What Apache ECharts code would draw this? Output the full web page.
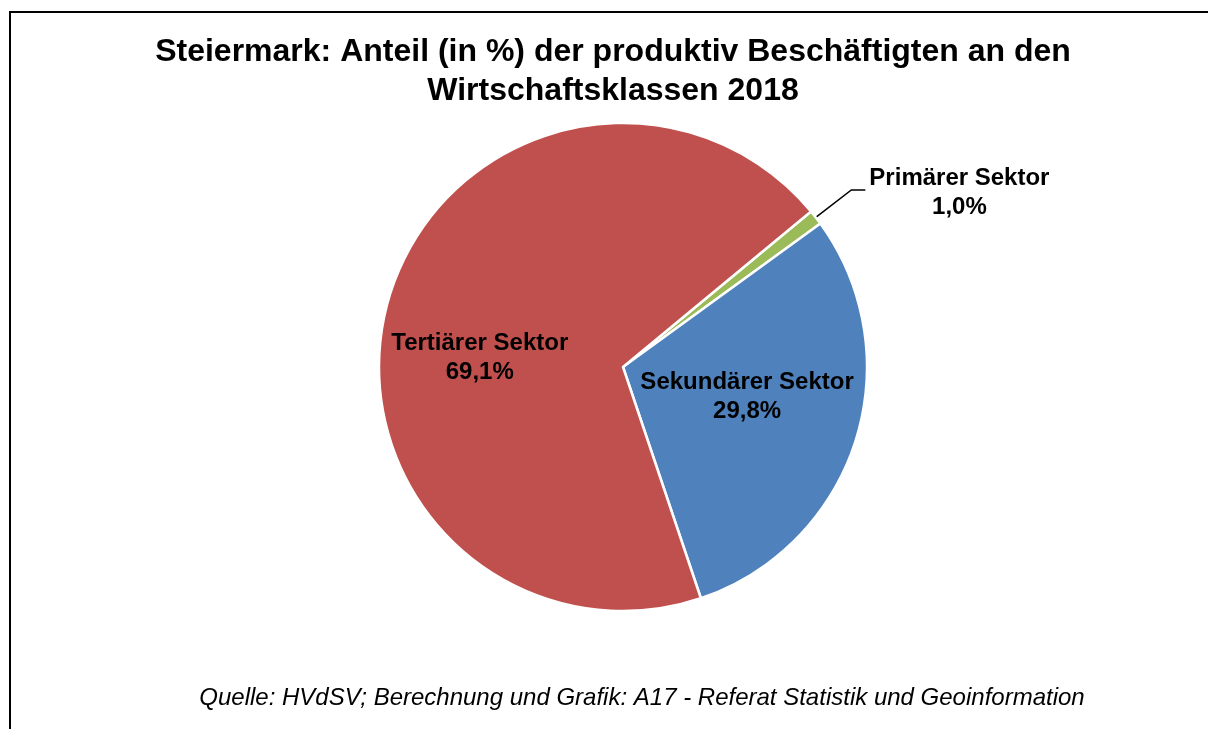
<!DOCTYPE html>
<html>
<head>
<meta charset="utf-8">
<script src="https://cdn.jsdelivr.net/npm/echarts@6/dist/echarts.min.js"></script>
<style>
html,body{margin:0;padding:0;background:#fff;}
#chart{width:1208px;height:729px;}
</style>
</head>
<body>
<div id="chart"></div>
<script>
const titleText = 'Steiermark: Anteil (in %) der produktiv Beschäftigten an den\nWirtschaftsklassen 2018';
const sourceText = 'Quelle: HVdSV; Berechnung und Grafik: A17 - Referat Statistik und Geoinformation';
const categories = ['Primärer Sektor', 'Sekundärer Sektor', 'Tertiärer Sektor'];
const values = [1.0, 29.8, 69.1];
const colors = ['#9BBB59', '#4F81BD', '#C0504D'];

const FONT = "'Liberation Sans', Arial, sans-serif";
const fmt = v => v.toFixed(1).replace('.', ',') + '%';

const labelBase = {
  color: '#000', fontFamily: FONT, fontWeight: 'bold', fontSize: 24, lineHeight: 28.5
};
const itemLabels = [
  {
    position: 'outside',
    formatter: p => '{a|' + p.name + '}\n{a|' + fmt(p.value) + '}',
    rich: { a: Object.assign({}, labelBase, { align: 'center' }) },
    padding: [6, 0, 0, 0],
    distanceToLabelLine: 4
  },
  { position: 'inside', offset: [5, -8] },
  { position: 'inside', offset: [-23, 25] }
];

const data = categories.map((c, i) => ({
  name: c,
  value: values[i],
  itemStyle: { color: colors[i] },
  label: itemLabels[i],
  labelLine: { show: i === 0 }
}));

const chart = echarts.init(document.getElementById('chart'), null, { renderer: 'canvas' });
chart.setOption({
  animation: false,
  backgroundColor: '#fff',
  title: [
    {
      text: titleText,
      left: 613, top: 32.5, padding: 0, textAlign: 'center',
      textStyle: { fontFamily: FONT, fontWeight: 'bold', fontSize: 32, lineHeight: 39, color: '#000' }
    },
    {
      text: sourceText,
      left: 642, top: 684, padding: 0, textAlign: 'center',
      textStyle: { fontFamily: FONT, fontStyle: 'italic', fontWeight: 'normal', fontSize: 24, lineHeight: 28, color: '#000' }
    }
  ],
  graphic: [
    { type: 'rect', shape: { x: 10, y: 12, width: 1400, height: 900 }, style: { fill: 'none', stroke: '#000', lineWidth: 2 }, silent: true }
  ],
  series: [{
    type: 'pie',
    center: [623, 367],
    radius: 244,
    startAngle: 39.6,
    clockwise: true,
    avoidLabelOverlap: false,
    itemStyle: { borderColor: '#fff', borderWidth: 2.5 },
    label: Object.assign({ show: true, formatter: p => p.name + '\n' + fmt(p.value) }, labelBase),
    labelLine: { show: true, length: 45, length2: 14, lineStyle: { color: '#000', width: 1.5 } },
    emphasis: { disabled: true },
    data: data
  }]
});
</script>
</body>
</html>
